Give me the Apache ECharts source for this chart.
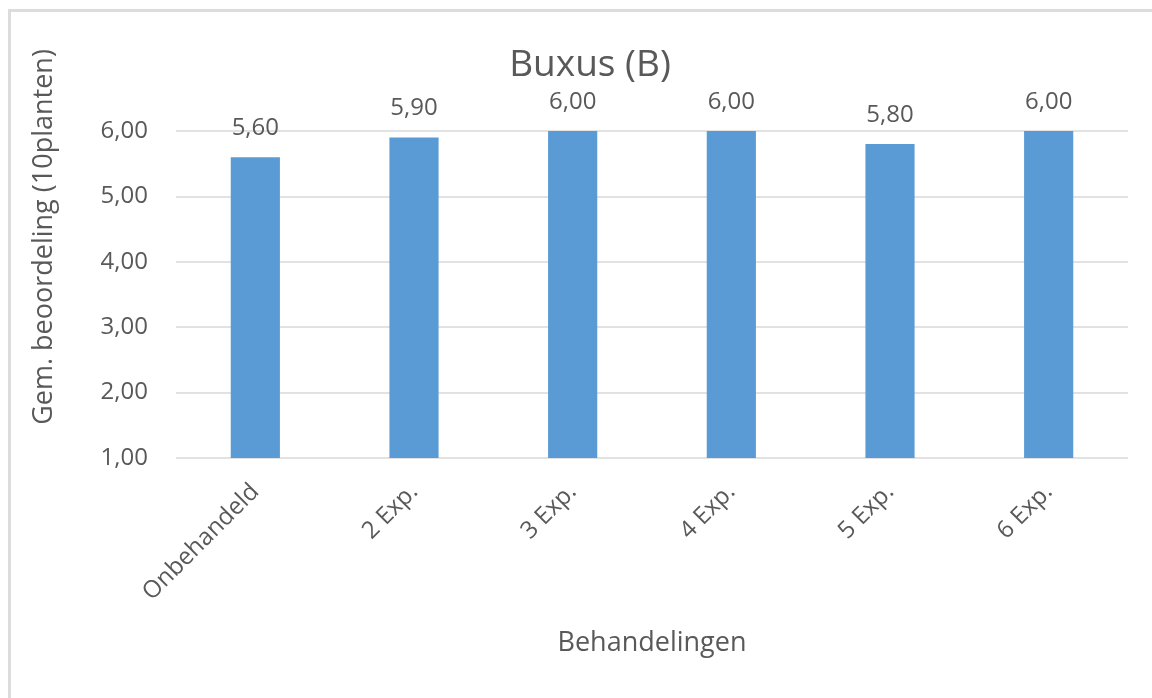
<!DOCTYPE html>
<html>
<head>
<meta charset="utf-8">
<script src="https://cdn.jsdelivr.net/npm/echarts@6/dist/echarts.min.js"></script>
<style>
  html, body { margin: 0; padding: 0; background: #fff; }
  .frame {
    position: absolute; left: 8px; top: 9px; width: 1150px; height: 700px;
    border-top: 3px solid #dcdcdc; border-left: 3px solid #dcdcdc;
  }
  #chart { position: absolute; left: 0; top: 0; width: 1152px; height: 698px; }
</style>
</head>
<body>
<div class="frame"></div>
<div id="chart"></div>
<script>
// categories and values
const categories = ['Onbehandeld', '2 Exp.', '3 Exp.', '4 Exp.', '5 Exp.', '6 Exp.'];
const scores = [5.6, 5.9, 6.0, 6.0, 5.8, 6.0];

const fmt = v => Number(v).toFixed(2).replace('.', ',');
const font = '"Open Sans", "Noto Sans", sans-serif';
const grey = '#595959';

const chart = echarts.init(document.getElementById('chart'));

chart.setOption({
  backgroundColor: 'transparent',
  animation: false,
  title: {
    text: 'Buxus (B)',
    left: 585,
    top: 42,
    textAlign: 'center',
    textStyle: { fontFamily: font, fontSize: 37, fontWeight: 'normal', color: grey }
  },
  graphic: [
    {
      type: 'text',
      x: 44,
      y: 237,
      rotation: Math.PI / 2,
      style: {
        text: 'Gem. beoordeling (10planten)',
        fontFamily: font,
        fontSize: 27,
        fill: grey,
        align: 'center',
        verticalAlign: 'middle'
      }
    }
  ],
  grid: {
    left: 176,
    right: 24,
    top: 131,
    bottom: 240
  },
  xAxis: {
    type: 'category',
    data: categories,
    name: 'Behandelingen',
    nameLocation: 'middle',
    nameGap: 172,
    nameTextStyle: { fontFamily: font, fontSize: 27, color: grey },
    axisLine: { show: false },
    axisTick: { show: false },
    axisLabel: {
      rotate: 45,
      margin: 30,
      fontFamily: font,
      fontSize: 24,
      color: grey
    }
  },
  yAxis: {
    type: 'value',
    min: 1,
    max: 6,
    interval: 1,
    axisLine: { show: false },
    axisTick: { show: false },
    splitLine: { lineStyle: { color: '#d9d9d9', width: 1.5 } },
    axisLabel: {
      margin: 28,
      formatter: fmt,
      fontFamily: font,
      fontSize: 24,
      color: grey
    }
  },
  series: [
    {
      type: 'bar',
      data: scores,
      barWidth: '31%',
      itemStyle: { color: '#5b9bd5' },
      label: {
        show: true,
        position: 'top',
        distance: 17,
        formatter: p => fmt(p.value),
        fontFamily: font,
        fontSize: 24,
        color: grey
      }
    }
  ]
});
</script>
</body>
</html>
